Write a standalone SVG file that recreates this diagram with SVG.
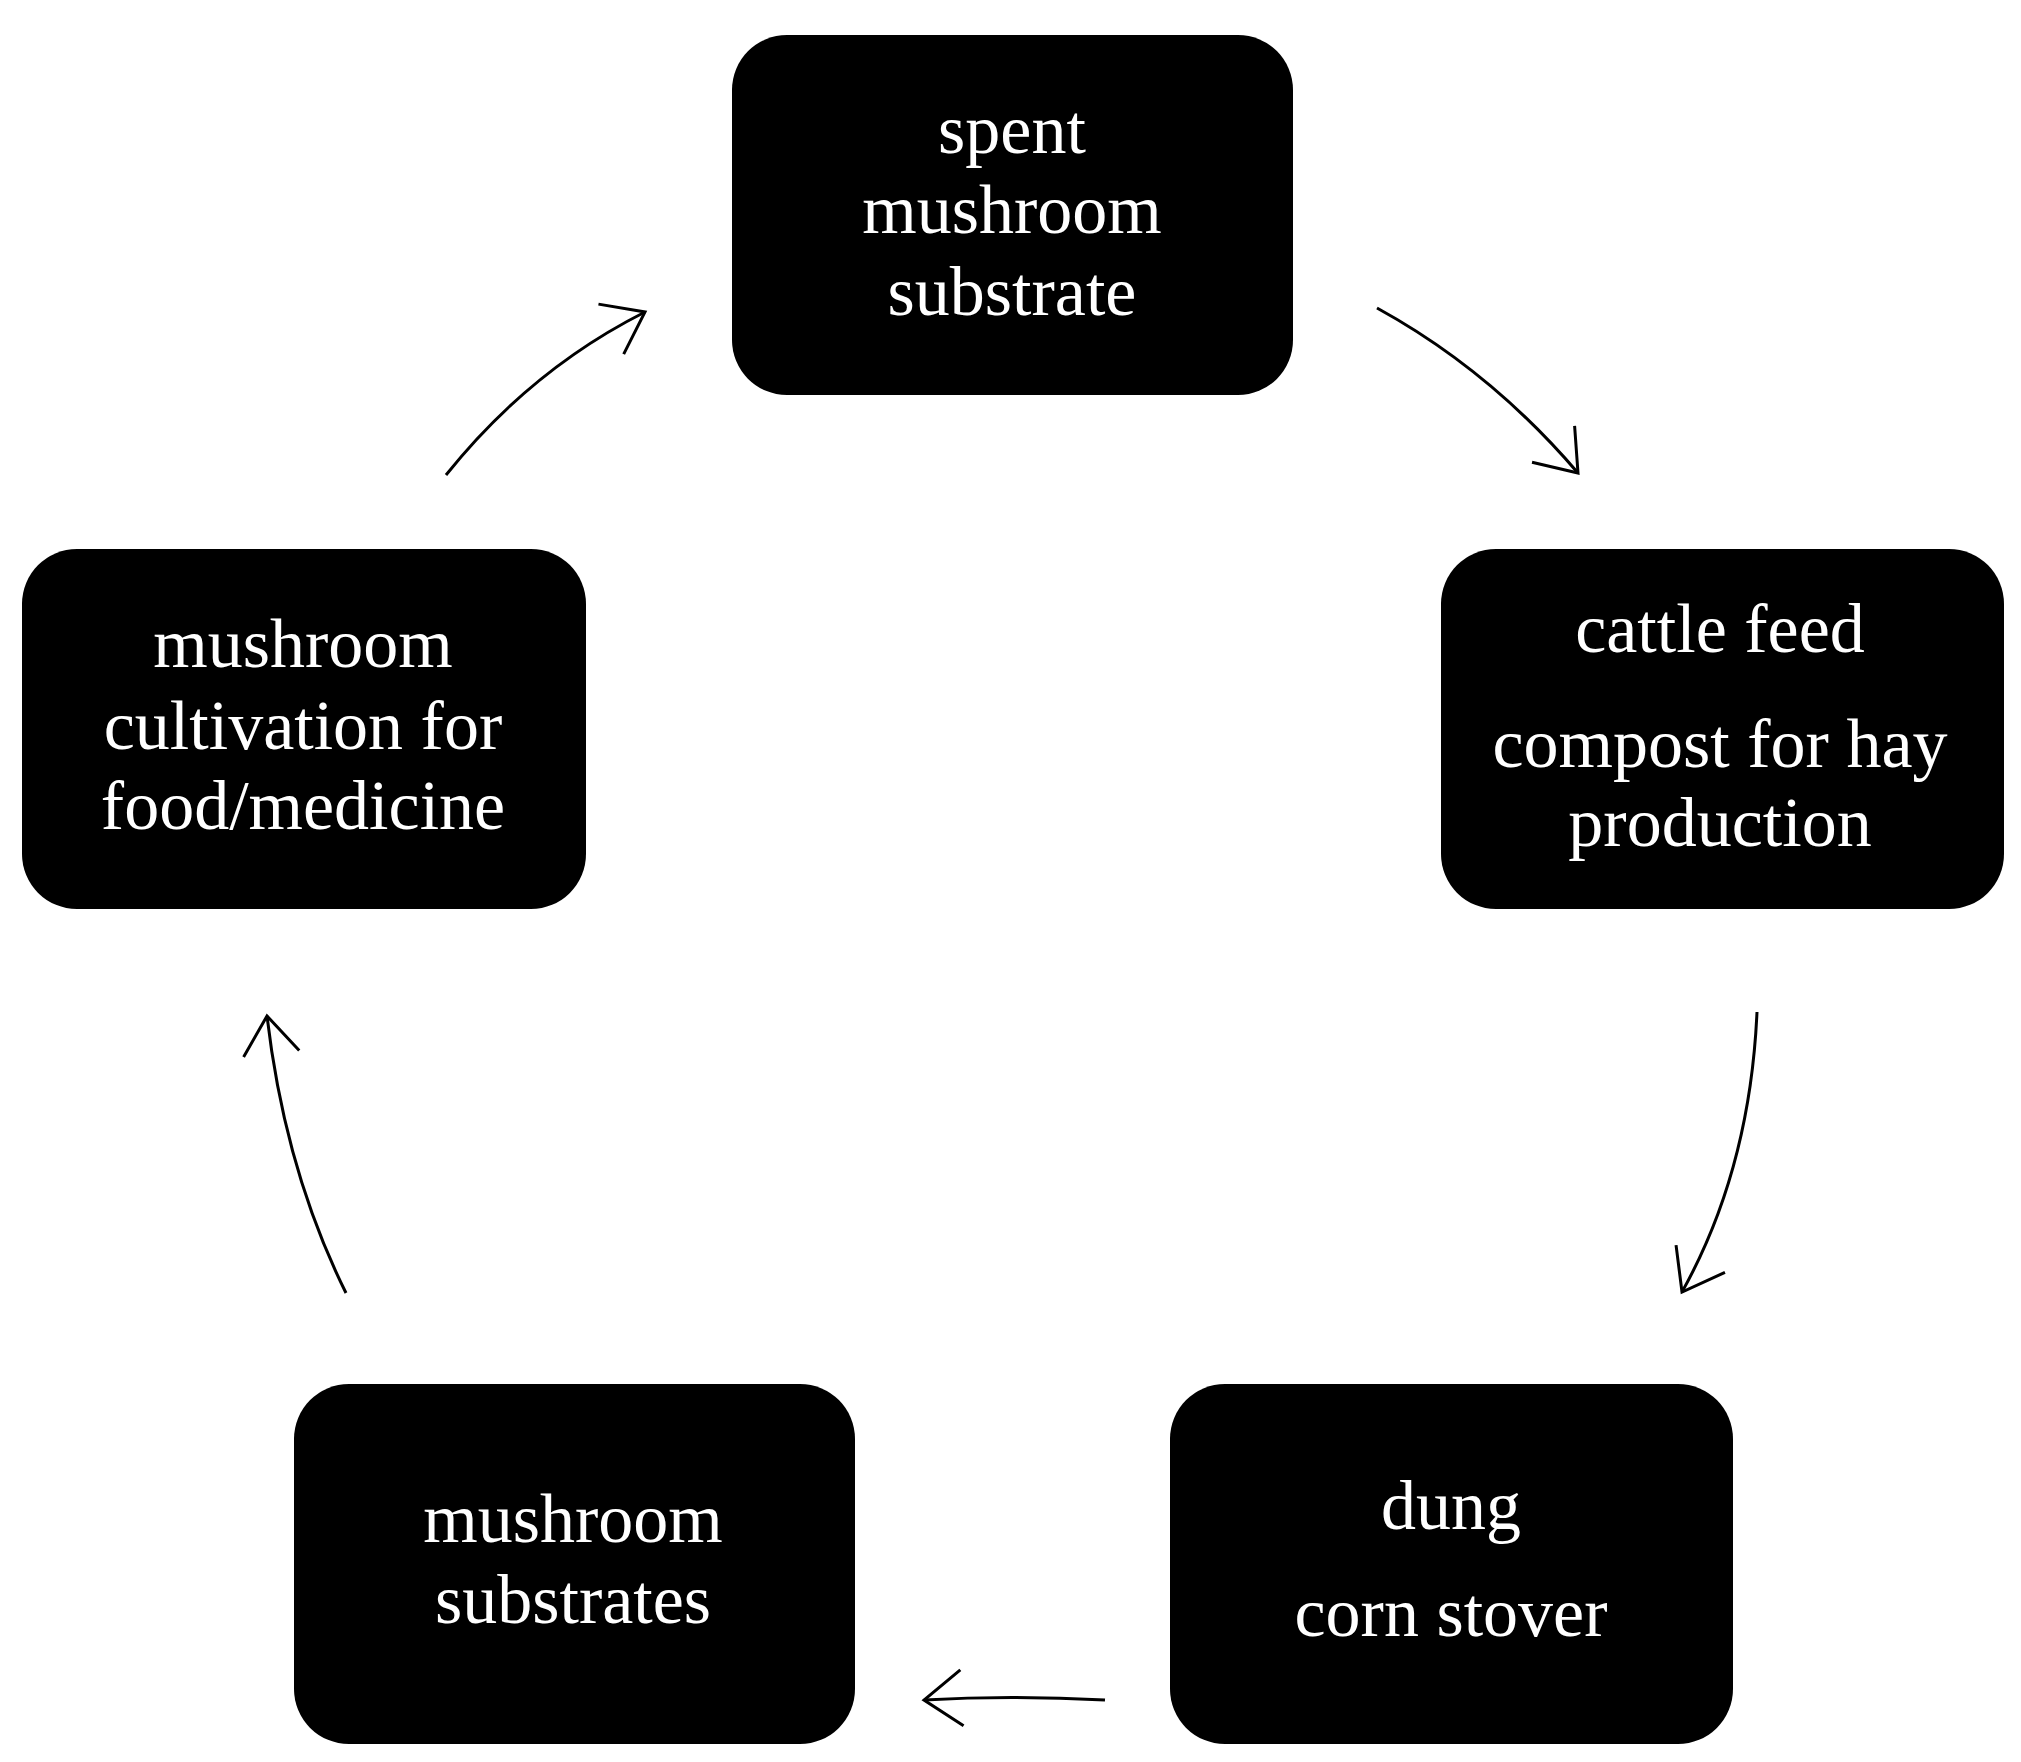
<svg xmlns="http://www.w3.org/2000/svg" width="2021" height="1762" viewBox="0 0 2021 1762">
<style>
.box{fill:#000}
text{fill:#fff;font-family:"Liberation Serif","DejaVu Serif",serif;font-size:70px;text-anchor:middle}
.c{fill:none;stroke:#000;stroke-width:3}
</style>
<defs>
<marker id="a" markerUnits="userSpaceOnUse" markerWidth="60" markerHeight="80" refX="40" refY="30" orient="auto" viewBox="0 0 60 60">
<path d="M2,2 L40,30 L2,58" fill="none" stroke="#000" stroke-width="3"/>
</marker>
</defs>
<rect width="2021" height="1762" fill="#fff"/>
<g id="n1"><rect class="box" x="732" y="35" width="561" height="360" rx="55"/>
<text x="1012" y="153">spent</text><text x="1012" y="233">mushroom</text><text x="1012" y="315">substrate</text></g>
<g id="n2"><rect class="box" x="1441" y="549" width="563" height="360" rx="55"/>
<text x="1720" y="652">cattle feed</text><text x="1720" y="767">compost for hay</text><text x="1720" y="846">production</text></g>
<g id="n3"><rect class="box" x="1170" y="1384" width="563" height="360" rx="55"/>
<text x="1451" y="1529">dung</text><text x="1451" y="1636">corn stover</text></g>
<g id="n4"><rect class="box" x="294" y="1384" width="561" height="360" rx="55"/>
<text x="573" y="1542">mushroom</text><text x="573" y="1623">substrates</text></g>
<g id="n5"><rect class="box" x="22" y="549" width="564" height="360" rx="55"/>
<text x="303" y="667">mushroom</text><text x="303" y="749">cultivation for</text><text x="303" y="829">food/medicine</text></g>
<g id="connectors">
<path class="c" d="M446,475 Q530,370 645,312" marker-end="url(#a)"/>
<path class="c" d="M1377,308 Q1490,370 1578,473" marker-end="url(#a)"/>
<path class="c" d="M1757,1012 Q1750,1170 1682,1292" marker-end="url(#a)"/>
<path class="c" d="M1105,1700 Q1010,1695 924,1700" marker-end="url(#a)"/>
<path class="c" d="M346,1293 Q285,1170 267,1016" marker-end="url(#a)"/>
</g>
</svg>
